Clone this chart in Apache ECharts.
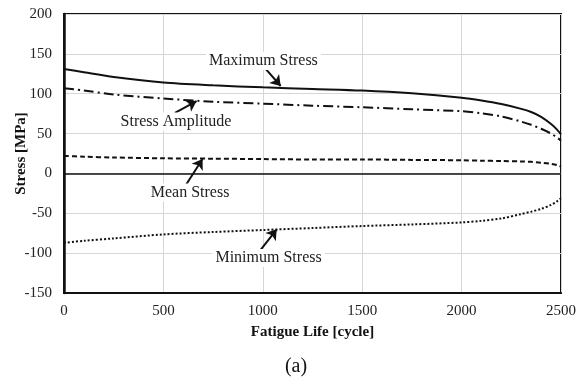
<!DOCTYPE html>
<html>
<head>
<meta charset="utf-8">
<script src="https://cdn.jsdelivr.net/npm/echarts@6/dist/echarts.min.js"></script>
<style>
  html, body { margin: 0; padding: 0; background: #fff; }
  #chart { width: 580px; height: 380px; }
</style>
</head>
<body>
<div id="chart"></div>
<script>
// Stress history over fatigue life (cycles)
const cycles = [0, 100, 250, 500, 750, 1000, 1250, 1500, 1750, 2000, 2100, 2200, 2300, 2350, 2400, 2450, 2480, 2500];
const maxStress = [131, 127, 121, 114, 110.5, 108, 106, 104, 100.5, 95, 91.5, 87, 81, 77, 71, 62, 55, 49];
const stressAmplitude = [107, 104, 99, 94, 90, 87.5, 85, 83, 80.5, 78, 75.5, 71.5, 65, 61, 56, 50, 45, 41];
const meanStress = [22, 21, 20, 19, 18.5, 18, 17.5, 17.5, 17, 16.5, 16, 15.5, 15, 14.5, 13.5, 12, 10.5, 8.5];
const minStress = [-87, -84.5, -81.5, -76.5, -73.5, -71, -68.5, -66, -64, -61.5, -59.5, -56.5, -51, -48, -44.5, -39.5, -35, -31];

// Callout labels: [text, label x, label y, arrow start x, arrow start y, arrow tip x, arrow tip y] in data units
const callouts = {
  max: ['Maximum Stress', 1003, 141, 1011, 132, 1090, 109.7],
  amp: ['Stress Amplitude', 563, 65, 558, 76, 667, 90.8],
  mean: ['Mean Stress', 634, -24, 609, -16, 697, 18.1],
  min: ['Minimum Stress', 1029, -106, 982, -98, 1070, -70.1]
};

const FONT = '"Liberation Serif", "Times New Roman", serif';

function pairs(ys) {
  return cycles.map((c, i) => [c, ys[i]]);
}

function calloutParts(c) {
  return {
    markPoint: {
      symbol: 'rect',
      symbolSize: 1,
      silent: true,
      itemStyle: { color: 'rgba(0,0,0,0)' },
      label: {
        show: true,
        position: 'inside',
        formatter: c[0],
        fontFamily: FONT,
        fontSize: 16,
        color: '#222',
        backgroundColor: '#fff',
        padding: [1, 3]
      },
      data: [{ coord: [c[1], c[2]] }]
    },
    markLine: {
      silent: true,
      symbol: ['none', 'arrow'],
      symbolSize: 10,
      label: { show: false },
      lineStyle: { color: '#111', width: 2, type: 'solid' },
      data: [[{ coord: [c[3], c[4]] }, { coord: [c[5], c[6]] }]]
    }
  };
}

function series(name, ys, lineType, c) {
  return Object.assign({
    name: name,
    type: 'line',
    data: pairs(ys),
    smooth: 0.3,
    showSymbol: false,
    lineStyle: { color: '#111', width: 2, type: lineType },
    z: 3
  }, calloutParts(c));
}

const chart = echarts.init(document.getElementById('chart'), null, { renderer: 'canvas' });

const option = {
  backgroundColor: '#fff',
  animation: false,
  grid: {
    left: 64, right: 19, top: 14, bottom: 87,
    containLabel: false,
    outerBoundsMode: 'none',
    show: true, borderColor: '#111', borderWidth: 2, backgroundColor: 'transparent'
  },
  xAxis: {
    type: 'value',
    min: 0, max: 2500, interval: 500,
    name: 'Fatigue Life [cycle]',
    nameLocation: 'middle',
    nameGap: 32,
    nameMoveOverlap: false,
    nameTextStyle: { fontFamily: FONT, fontSize: 15, fontWeight: 'bold', color: '#111' },
    axisLine: { show: true, onZero: false, lineStyle: { color: '#111', width: 2 } },
    axisTick: { show: false },
    axisLabel: { fontFamily: FONT, fontSize: 15, color: '#222', margin: 11, formatter: v => String(v) },
    splitLine: { show: true, lineStyle: { color: '#d6d6d6', width: 1 } }
  },
  yAxis: {
    type: 'value',
    min: -150, max: 200, interval: 50,
    name: 'Stress [MPa]',
    nameLocation: 'middle',
    nameGap: 35,
    nameMoveOverlap: false,
    nameTextStyle: { fontFamily: FONT, fontSize: 15, fontWeight: 'bold', color: '#111' },
    axisLine: { show: true, onZero: false, lineStyle: { color: '#111', width: 2.5 } },
    axisTick: { show: false },
    axisLabel: { fontFamily: FONT, fontSize: 15, color: '#222', margin: 12, formatter: v => String(v) },
    splitLine: { show: true, lineStyle: { color: '#d6d6d6', width: 1 } }
  },
  series: [
    series('Maximum Stress', maxStress, 'solid', callouts.max),
    series('Stress Amplitude', stressAmplitude, [10, 4, 2, 4], callouts.amp),
    series('Mean Stress', meanStress, [5, 3], callouts.mean),
    series('Minimum Stress', minStress, [2, 2], callouts.min),
    {
      // zero reference line
      name: 'zero',
      type: 'line',
      data: [],
      markLine: {
        silent: true,
        symbol: 'none',
        label: { show: false },
        lineStyle: { color: '#111', width: 1.5, type: 'solid' },
        data: [{ yAxis: 0 }]
      },
      z: 2
    }
  ],
  graphic: [{
    type: 'text',
    x: 296, y: 367,
    style: {
      text: '(a)',
      fontFamily: FONT,
      fontSize: 20,
      fill: '#111',
      textAlign: 'center',
      textVerticalAlign: 'middle'
    }
  }]
};

chart.setOption(option);
</script>
</body>
</html>
